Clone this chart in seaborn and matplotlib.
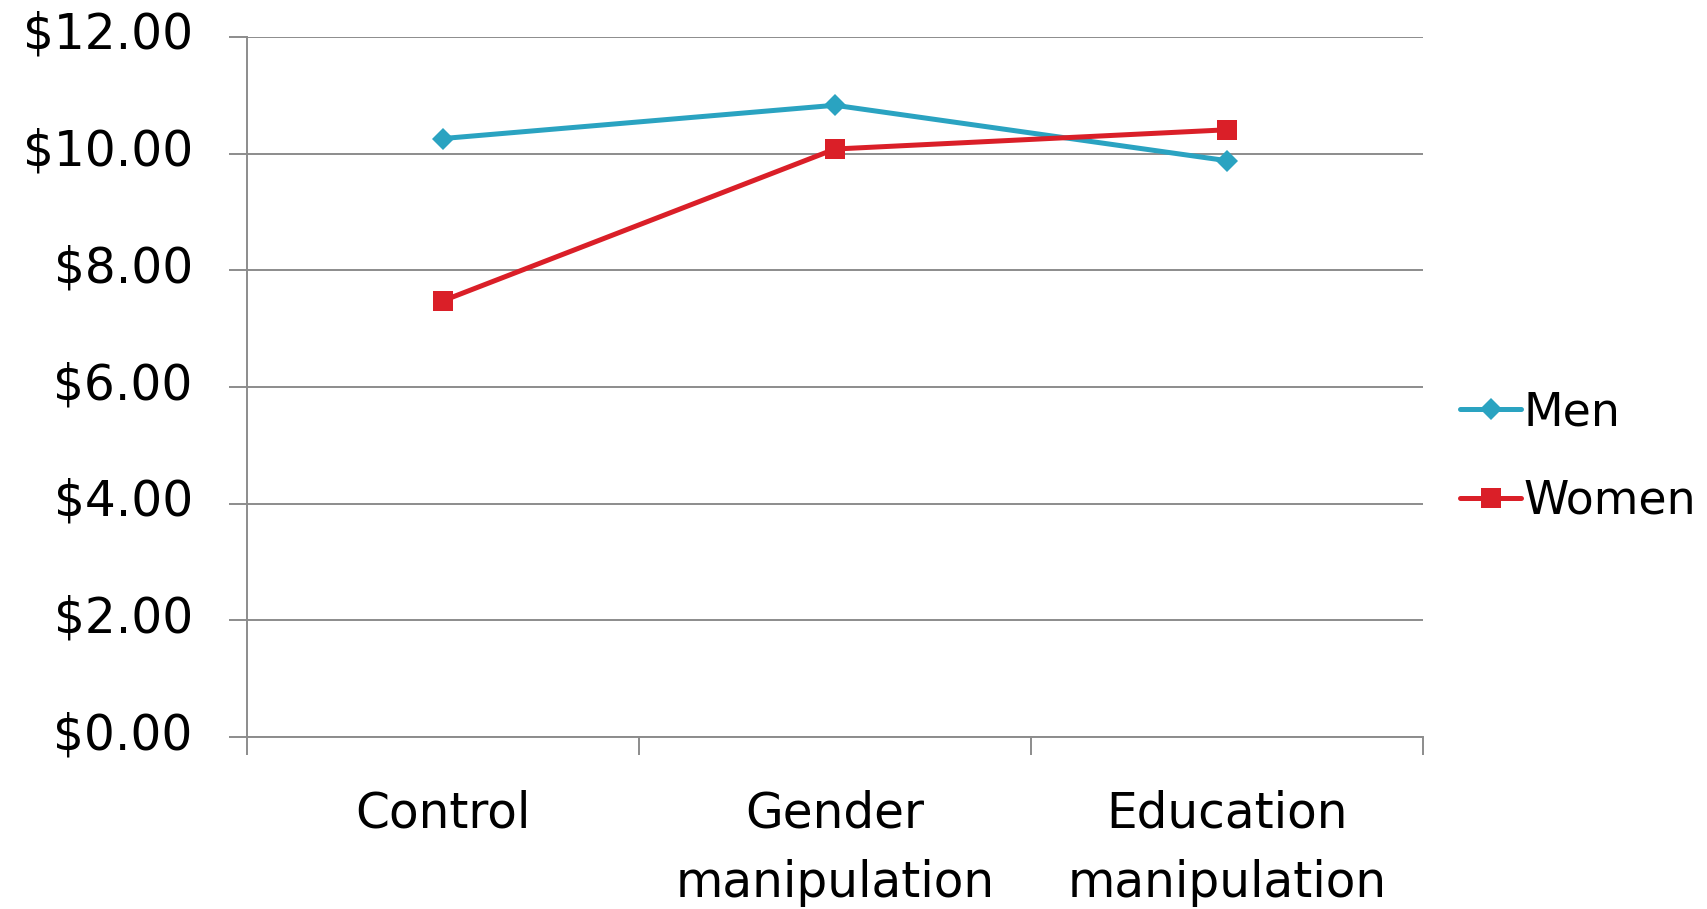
import matplotlib
matplotlib.use("Agg")
import matplotlib.pyplot as plt
import matplotlib.transforms as mtransforms
import seaborn as sns
import pandas as pd
from matplotlib.ticker import FuncFormatter, FixedLocator

# Average amounts by condition and gender
conditions = ["Control", "Gender\nmanipulation", "Education\nmanipulation"]
men_values = [10.26, 10.83, 9.88]
women_values = [7.48, 10.08, 10.41]
series_names = ["Men", "Women"]
y_ticks = [0, 2, 4, 6, 8, 10, 12]

df = pd.DataFrame({
    "condition": conditions * 2,
    "amount": men_values + women_values,
    "group": [series_names[0]] * 3 + [series_names[1]] * 3,
})

sns.set_theme(style="white")
plt.rcParams["font.family"] = ["DejaVu Sans"]
plt.rcParams["text.color"] = "black"
plt.rcParams["xtick.color"] = "black"
plt.rcParams["ytick.color"] = "black"

FS = 35

fig = plt.figure(figsize=(17.07, 9.09), dpi=100)
ax = fig.add_axes([0.1447, 0.189, 0.8336 - 0.1447, 0.9593 - 0.189])

palette = {"Men": "#2AA3C1", "Women": "#DA1F28"}
markers = {"Men": "D", "Women": "s"}
sns.lineplot(data=df, x="condition", y="amount", hue="group", style="group",
             palette=palette, markers=markers, dashes=False, sort=False,
             linewidth=3.6, markersize=11.5, markeredgewidth=0, ax=ax)
# Squares a touch larger than the diamonds
for line in ax.get_lines():
    if line.get_marker() == "s":
        line.set_markersize(14.5)

grid_color = "#8C8C8C"
ax.set_xlim(-0.5, 2.5)
ax.set_ylim(0, 12)
ax.set_yticks(y_ticks)
ax.yaxis.set_major_formatter(FuncFormatter(lambda v, _: f"${v:.2f}"))
ax.grid(axis="y", color=grid_color, linewidth=1.4)
ax.set_axisbelow(True)

# Category boundaries as tick marks, names centred between them
ax.xaxis.set_major_locator(FixedLocator([-0.5, 0.5, 1.5, 2.5]))
ax.set_xticklabels([])
ax.xaxis.set_minor_locator(FixedLocator([0, 1, 2]))
ax.set_xticklabels(conditions, minor=True, fontsize=FS, linespacing=1.55)
ax.tick_params(axis="x", which="major", direction="out", length=13,
               width=1.4, color=grid_color, bottom=True)
ax.tick_params(axis="x", which="minor", length=0, pad=38)
ax.tick_params(axis="y", direction="out", length=13, width=1.4,
               color=grid_color, left=True, labelsize=FS, pad=26)

# Lift the dollar labels slightly above their gridlines
lift = mtransforms.ScaledTranslation(0, 7 / 100, fig.dpi_scale_trans)
for lbl in ax.get_yticklabels():
    lbl.set_transform(lbl.get_transform() + lift)
    lbl.set_color("black")
for lbl in ax.get_xticklabels(minor=True):
    lbl.set_color("black")

for side in ["top", "right"]:
    ax.spines[side].set_visible(False)
for side in ["left", "bottom"]:
    ax.spines[side].set_color(grid_color)
    ax.spines[side].set_linewidth(1.4)

ax.set_xlabel("")
ax.set_ylabel("")

leg = ax.legend(loc="center left", bbox_to_anchor=(1.0, 0.4), frameon=False,
                fontsize=33, handlelength=1.35, handletextpad=0.05,
                labelspacing=0.95, borderaxespad=0.4)
for t in leg.get_texts():
    t.set_color("black")
for h in leg.legend_handles:
    h.set_linewidth(3.6)

fig.savefig("out.png", dpi=100)
